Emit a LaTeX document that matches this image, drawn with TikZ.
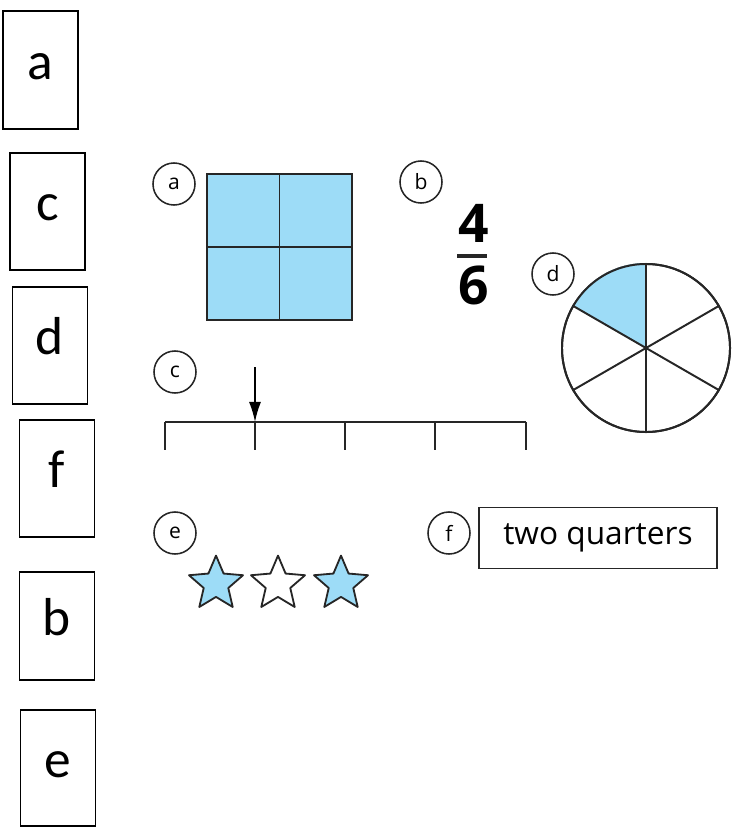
\documentclass[tikz,border=0pt]{standalone}
\usepackage{fontspec}
\setmainfont{Carlito}
\newfontfamily\kidsfont{Open Sans}
\usetikzlibrary{shapes.geometric, arrows.meta, positioning}
\definecolor{partblue}{HTML}{9DDCF7}

\begin{document}
\begin{tikzpicture}[x=0.025cm, y=-0.025cm]
    % Styles
    \tikzstyle{answer} = [rectangle, draw=black, line width=1.2pt, minimum width=1.875cm, minimum height=2.95cm, text height=0.45cm, text depth=0pt, font=\fontsize{38}{40}\selectfont]
    \tikzstyle{tag} = [circle, draw=black!85, line width=1.1pt, minimum size=1.05cm, inner sep=0pt, font=\kidsfont\fontsize{15}{15}\selectfont]
    \tikzstyle{part} = [line width=1.4pt]
    \tikzstyle{digit} = [inner sep=0pt, font=\kidsfont\bfseries\fontsize{38}{38}\selectfont]
    \tikzstyle{starpart} = [star, star points=5, star point ratio=2.2, minimum size=1.42cm, inner sep=0pt, draw=black!85, line width=1.3pt, line join=round]
    \tikzstyle{pointer} = [line width=1.1pt, -{Latex[length=5mm, width=3mm]}]

    \useasboundingbox (0,0) rectangle (739,827);

    % Answer boxes on the left
    \node (boxa) [answer] at (40.5,70) {a};
    \node (boxc) [answer, minimum height=2.925cm] at (47.5,211.5) {c};
    \node (boxd) [answer, minimum height=2.925cm] at (50,345.5) {d};
    \node (boxf) [answer, minimum height=2.925cm] at (57,478.5) {f};
    \node (boxb) [answer, minimum height=2.7cm] at (57,626) {b};
    \node (boxe) [answer, minimum height=2.9cm] at (58,768) {e};

    % Question tags
    \node (taga) [tag] at (174,184) {a};
    \node (tagb) [tag] at (421,182) {b};
    \node (tagc) [tag] at (175,372) {c};
    \node (tagd) [tag] at (553,274) {d};
    \node (tage) [tag] at (175,533) {e};
    \node (tagf) [tag] at (449,533) {f};

    % a: square in quarters
    \node (square) [rectangle, draw=black!85, part, fill=partblue, minimum size=3.625cm] at (279.5,247) {};
    \draw [part, black!85] (square.north) -- (square.south);
    \draw [part, black!85] (square.west) -- (square.east);

    % b: four sixths
    \node (num) [digit] at (474,223) {4};
    \node (bar) [fill=black!85, minimum width=0.75cm, minimum height=2.8pt, inner sep=0pt] at (471.5,256) {};
    \node (den) [digit] at (474,285) {6};

    % c: number line
    \foreach \i/\x in {0/165, 1/255, 2/345, 3/435, 4/526}
        \coordinate (tick\i) at (\x,422);
    \draw [part, black!85] (tick0) -- (tick4);
    \foreach \i in {0,...,4}
        \draw [part, black!85] (tick\i) -- ++(0,28);
    \coordinate (arrowtop) at (255,367);
    \draw [pointer] (arrowtop) -- (tick1);

    % d: circle in sixths
    \node (pie) [circle, draw=black!85, part, minimum size=4.2cm, inner sep=0pt] at (646,348) {};
    \fill [partblue] (pie.center) -- (pie.90) arc[start angle=90, end angle=150, radius=2.1cm] -- cycle;
    \draw [part, black!85] (pie) circle[radius=2.1cm];
    \foreach \a in {30,90,...,330}
        \draw [part, black!85] (pie.center) -- (pie.\a);

    % e: stars
    \node (star1) [starpart, fill=partblue] at (216,584) {};
    \node (star2) [starpart, fill=white] at (278,584) {};
    \node (star3) [starpart, fill=partblue] at (341,584) {};

    % f: words
    \node (words) [rectangle, draw=black!85, part, minimum width=5.95cm, minimum height=1.525cm, font=\kidsfont\fontsize{22.5}{22.5}\selectfont] at (598,538) {two quarters};
\end{tikzpicture}
\end{document}
